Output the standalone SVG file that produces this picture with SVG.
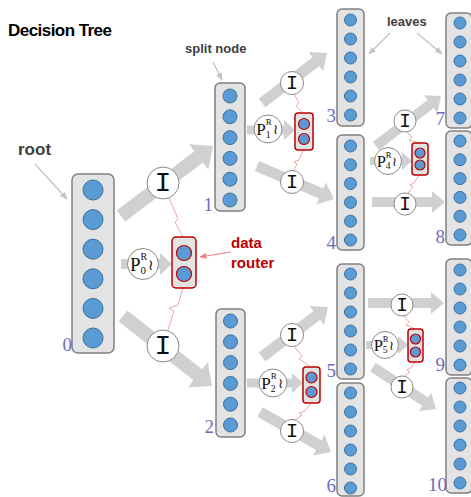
<svg xmlns="http://www.w3.org/2000/svg" width="471" height="497" viewBox="0 0 471 497">
<style>
.bg{fill:#ffffff}
.arr{fill:#d0d0d0}
.box{fill:#e3e3e3;stroke:#808080;stroke-width:1.5}
.dot{fill:#5b9bd5;stroke:#41719c;stroke-width:1}
.rbox{fill:#e3e3e3;stroke:#c00000;stroke-width:1.5}
.rdot{fill:#5b9bd5;stroke:#c00000;stroke-width:1.2}
.pink{fill:none;stroke:#f4a3a3;stroke-width:1}
.op{fill:#ffffff;stroke:#8a8a8a;stroke-width:1}
.itxt{font-family:"Liberation Mono","DejaVu Sans Mono",monospace;font-size:28px;fill:#111;text-anchor:middle}
.ptxt{font-family:"Liberation Serif","DejaVu Serif",serif;fill:#111}
.num{font-family:"Liberation Serif","DejaVu Serif",serif;font-size:19px;fill:#6b6bc4;text-anchor:end}
.lbl{font-family:"Liberation Sans","DejaVu Sans",sans-serif;font-weight:bold;fill:#404040}
.note{fill:none;stroke:#c4c4c4;stroke-width:1.3}
</style>
<defs>
<marker id="gh" viewBox="0 0 10 10" refX="9" refY="5" markerWidth="6" markerHeight="6" orient="auto">
<path d="M0,1 L10,5 L0,9 Z" fill="#c4c4c4"/>
</marker>
<marker id="rh" viewBox="0 0 10 10" refX="9" refY="5" markerWidth="6" markerHeight="6" orient="auto">
<path d="M0,1 L10,5 L0,9 Z" fill="#f08080"/>
</marker>
</defs>
<rect class="bg" x="0" y="0" width="471" height="497"/>

<text class="lbl" x="8" y="36" font-size="17" style="fill:#000" textLength="104">Decision Tree</text>
<text class="lbl" x="18" y="155" font-size="17">root</text>
<text class="lbl" x="185" y="53" font-size="13">split node</text>
<text class="lbl" x="387" y="26" font-size="13">leaves</text>
<text class="lbl" x="231" y="248" font-size="15" style="fill:#c00000">data</text>
<text class="lbl" x="231" y="268" font-size="15" style="fill:#c00000">router</text>
<line class="note" x1="35" y1="164" x2="67" y2="199" marker-end="url(#gh)"/>
<line class="note" x1="213" y1="62" x2="222" y2="80" marker-end="url(#gh)"/>
<line class="note" x1="390" y1="33" x2="369" y2="54" marker-end="url(#gh)"/>
<line class="note" x1="417" y1="33" x2="442" y2="54" marker-end="url(#gh)"/>
<line x1="231" y1="252" x2="200" y2="257" stroke="#f08080" stroke-width="1.2" marker-end="url(#rh)"/>

<g id="connectors">
<path class="arr" transform="translate(121,216) rotate(-37.27)" d="M0,-7 H97.6 V-16 L115.6,0 L97.6,16 V7 H0 Z"/>
<path class="arr" transform="translate(123,316) rotate(38.19)" d="M0,-7 H95.2 V-16 L113.2,0 L95.2,16 V7 H0 Z"/>
<path class="arr" transform="translate(262,103) rotate(-37.57)" d="M0,-5.5 H68 V-12 L82,0 L68,12 V5.5 H0 Z"/>
<path class="arr" transform="translate(257,166) rotate(23.2)" d="M0,-5.5 H69.8 V-12 L83.8,0 L69.8,12 V5.5 H0 Z"/>
<path class="arr" transform="translate(262,357) rotate(-37.15)" d="M0,-5.5 H68.8 V-12 L82.8,0 L68.8,12 V5.5 H0 Z"/>
<path class="arr" transform="translate(260,412) rotate(29.39)" d="M0,-5.5 H67.5 V-12 L81.5,0 L67.5,12 V5.5 H0 Z"/>
<path class="arr" transform="translate(376,146) rotate(-37.57)" d="M0,-5 H69 V-11 L82,0 L69,11 V5 H0 Z"/>
<path class="arr" transform="translate(372,202)" d="M0,-5 H60 V-11 L73,0 L60,11 V5 H0 Z"/>
<path class="arr" transform="translate(368,303)" d="M0,-5 H63 V-11 L76,0 L63,11 V5 H0 Z"/>
<path class="arr" transform="translate(373,367) rotate(33.69)" d="M0,-5 H62.7 V-11 L75.7,0 L62.7,11 V5 H0 Z"/>
<path class="arr" transform="translate(121,264)" d="M0,-5 H39 V-11 L51,0 L39,11 V5 H0 Z"/>
<path class="arr" transform="translate(247,130)" d="M0,-4.5 H37 V-10 L48,0 L37,10 V4.5 H0 Z"/>
<path class="arr" transform="translate(247,383)" d="M0,-4.5 H45 V-10 L56,0 L45,10 V4.5 H0 Z"/>
<path class="arr" transform="translate(370,161)" d="M0,-4 H32 V-9 L42,0 L32,9 V4 H0 Z"/>
<path class="arr" transform="translate(366,345)" d="M0,-4 H32 V-9 L42,0 L32,9 V4 H0 Z"/>
<path class="pink" d="M169,198 L178,219 L175,222 L183,237"/>
<path class="pink" d="M183,288 L178,305 L169,308 L174,311 L168,330"/>
<path class="pink" d="M294,94 L299,103 L296,106 L303,113"/>
<path class="pink" d="M303,150 L299,160 L294,162 L297,164 L294,170"/>
<path class="pink" d="M294,346 L302,356 L299,359 L311,367"/>
<path class="pink" d="M311,403 L305,411 L299,413 L302,415 L295,420"/>
<path class="pink" d="M407,132 L412,137 L409,140 L419,143"/>
<path class="pink" d="M419,175 L414,183 L410,185 L413,187 L408,193"/>
<path class="pink" d="M404,316 L409,322 L406,325 L415,329"/>
<path class="pink" d="M415,362 L411,368 L407,370 L410,372 L405,376"/>
</g>

<g id="node0">
<rect class="box" x="72" y="174" width="42" height="179" rx="6"/>
<circle class="dot" cx="93" cy="190" r="10"/><circle class="dot" cx="93" cy="219.6" r="10"/><circle class="dot" cx="93" cy="249.2" r="10"/><circle class="dot" cx="93" cy="278.8" r="10"/><circle class="dot" cx="93" cy="308.4" r="10"/><circle class="dot" cx="93" cy="338" r="10"/>
<text class="num" x="72" y="351">0</text>
</g>
<g id="node1">
<rect class="box" x="215" y="83" width="30" height="128" rx="5"/>
<circle class="dot" cx="230" cy="96" r="7"/><circle class="dot" cx="230" cy="116.8" r="7"/><circle class="dot" cx="230" cy="137.6" r="7"/><circle class="dot" cx="230" cy="158.4" r="7"/><circle class="dot" cx="230" cy="179.2" r="7"/><circle class="dot" cx="230" cy="200" r="7"/>
<text class="num" x="213" y="211">1</text>
</g>
<g id="node2">
<rect class="box" x="216" y="309" width="29" height="128" rx="5"/>
<circle class="dot" cx="230.5" cy="321" r="7"/><circle class="dot" cx="230.5" cy="341.8" r="7"/><circle class="dot" cx="230.5" cy="362.6" r="7"/><circle class="dot" cx="230.5" cy="383.4" r="7"/><circle class="dot" cx="230.5" cy="404.2" r="7"/><circle class="dot" cx="230.5" cy="425" r="7"/>
<text class="num" x="214" y="433">2</text>
</g>
<g id="node3">
<rect class="box" x="337" y="9" width="27" height="117" rx="5"/>
<circle class="dot" cx="350.5" cy="20" r="6"/><circle class="dot" cx="350.5" cy="39" r="6"/><circle class="dot" cx="350.5" cy="58" r="6"/><circle class="dot" cx="350.5" cy="77" r="6"/><circle class="dot" cx="350.5" cy="96" r="6"/><circle class="dot" cx="350.5" cy="115" r="6"/>
<text class="num" x="336" y="122">3</text>
</g>
<g id="node4">
<rect class="box" x="337" y="135" width="27" height="115" rx="5"/>
<circle class="dot" cx="350.5" cy="146" r="6"/><circle class="dot" cx="350.5" cy="164.8" r="6"/><circle class="dot" cx="350.5" cy="183.6" r="6"/><circle class="dot" cx="350.5" cy="202.4" r="6"/><circle class="dot" cx="350.5" cy="221.2" r="6"/><circle class="dot" cx="350.5" cy="240" r="6"/>
<text class="num" x="336" y="249">4</text>
</g>
<g id="node5">
<rect class="box" x="337" y="264" width="27" height="115" rx="5"/>
<circle class="dot" cx="350.5" cy="274" r="6"/><circle class="dot" cx="350.5" cy="293" r="6"/><circle class="dot" cx="350.5" cy="312" r="6"/><circle class="dot" cx="350.5" cy="331" r="6"/><circle class="dot" cx="350.5" cy="350" r="6"/><circle class="dot" cx="350.5" cy="369" r="6"/>
<text class="num" x="336" y="377">5</text>
</g>
<g id="node6">
<rect class="box" x="337" y="383" width="27" height="113" rx="5"/>
<circle class="dot" cx="350.5" cy="393" r="6"/><circle class="dot" cx="350.5" cy="412" r="6"/><circle class="dot" cx="350.5" cy="431" r="6"/><circle class="dot" cx="350.5" cy="450" r="6"/><circle class="dot" cx="350.5" cy="469" r="6"/><circle class="dot" cx="350.5" cy="488" r="6"/>
<text class="num" x="336" y="492">6</text>
</g>
<g id="node7">
<rect class="box" x="446" y="13" width="26" height="115" rx="5"/>
<circle class="dot" cx="460" cy="23" r="6"/><circle class="dot" cx="460" cy="42" r="6"/><circle class="dot" cx="460" cy="61" r="6"/><circle class="dot" cx="460" cy="80" r="6"/><circle class="dot" cx="460" cy="99" r="6"/><circle class="dot" cx="460" cy="118" r="6"/>
<text class="num" x="445" y="125">7</text>
</g>
<g id="node8">
<rect class="box" x="446" y="131" width="26" height="114" rx="5"/>
<circle class="dot" cx="460" cy="141" r="6"/><circle class="dot" cx="460" cy="159.8" r="6"/><circle class="dot" cx="460" cy="178.6" r="6"/><circle class="dot" cx="460" cy="197.4" r="6"/><circle class="dot" cx="460" cy="216.2" r="6"/><circle class="dot" cx="460" cy="235" r="6"/>
<text class="num" x="445" y="243">8</text>
</g>
<g id="node9">
<rect class="box" x="446" y="259" width="26" height="116" rx="5"/>
<circle class="dot" cx="460" cy="270" r="6"/><circle class="dot" cx="460" cy="289" r="6"/><circle class="dot" cx="460" cy="308" r="6"/><circle class="dot" cx="460" cy="327" r="6"/><circle class="dot" cx="460" cy="346" r="6"/><circle class="dot" cx="460" cy="365" r="6"/>
<text class="num" x="445" y="371">9</text>
</g>
<g id="node10">
<rect class="box" x="446" y="378" width="26" height="115" rx="5"/>
<circle class="dot" cx="460" cy="388" r="6"/><circle class="dot" cx="460" cy="407" r="6"/><circle class="dot" cx="460" cy="426" r="6"/><circle class="dot" cx="460" cy="445" r="6"/><circle class="dot" cx="460" cy="464" r="6"/><circle class="dot" cx="460" cy="483" r="6"/>
<text class="num" x="447" y="491">10</text>
</g>

<g id="router0">
<rect class="rbox" x="172" y="237" width="24" height="51" rx="4"/>
<circle class="rdot" cx="184" cy="253" r="7.5"/><circle class="rdot" cx="184" cy="274" r="7.5"/>
</g>
<g id="router1">
<rect class="rbox" x="295" y="113" width="18" height="37" rx="3"/>
<circle class="rdot" cx="304" cy="124" r="5.5"/><circle class="rdot" cx="304" cy="139" r="5.5"/>
</g>
<g id="router2">
<rect class="rbox" x="303" y="367" width="17" height="36" rx="3"/>
<circle class="rdot" cx="311.5" cy="377.5" r="5.5"/><circle class="rdot" cx="311.5" cy="392" r="5.5"/>
</g>
<g id="router4">
<rect class="rbox" x="412" y="143" width="16" height="32" rx="3"/>
<circle class="rdot" cx="420" cy="153" r="5"/><circle class="rdot" cx="420" cy="165" r="5"/>
</g>
<g id="router5">
<rect class="rbox" x="408" y="329" width="15" height="33" rx="3"/>
<circle class="rdot" cx="415.5" cy="339" r="5"/><circle class="rdot" cx="415.5" cy="352" r="5"/>
</g>

<g id="I-0a" transform="translate(163,183)"><circle class="op" r="16"/><text class="itxt" y="8">I</text></g>
<g id="I-0b" transform="translate(163,346)"><circle class="op" r="16"/><text class="itxt" y="8">I</text></g>
<g id="I-1a" transform="translate(292,83) scale(0.72)"><circle class="op" r="16" vector-effect="non-scaling-stroke"/><text class="itxt" y="8">I</text></g>
<g id="I-1b" transform="translate(292,182) scale(0.72)"><circle class="op" r="16" vector-effect="non-scaling-stroke"/><text class="itxt" y="8">I</text></g>
<g id="I-2a" transform="translate(292,335) scale(0.72)"><circle class="op" r="16" vector-effect="non-scaling-stroke"/><text class="itxt" y="8">I</text></g>
<g id="I-2b" transform="translate(292,431) scale(0.72)"><circle class="op" r="16" vector-effect="non-scaling-stroke"/><text class="itxt" y="8">I</text></g>
<g id="I-4a" transform="translate(405,121) scale(0.69)"><circle class="op" r="16" vector-effect="non-scaling-stroke"/><text class="itxt" y="8">I</text></g>
<g id="I-4b" transform="translate(405,204) scale(0.69)"><circle class="op" r="16" vector-effect="non-scaling-stroke"/><text class="itxt" y="8">I</text></g>
<g id="I-5a" transform="translate(402,305) scale(0.69)"><circle class="op" r="16" vector-effect="non-scaling-stroke"/><text class="itxt" y="8">I</text></g>
<g id="I-5b" transform="translate(402,387) scale(0.69)"><circle class="op" r="16" vector-effect="non-scaling-stroke"/><text class="itxt" y="8">I</text></g>

<g id="P0" transform="translate(143,264)"><circle class="op" r="15.5" vector-effect="non-scaling-stroke"/><text class="ptxt" x="-13" y="7" font-size="19">P</text><text class="ptxt" x="-2.5" y="-4" font-size="10">R</text><text class="ptxt" x="-2.5" y="9.5" font-size="11">0</text><text class="ptxt" x="5" y="6" font-size="15">≀</text></g>
<g id="P1" transform="translate(268,129) scale(0.9)"><circle class="op" r="15.5" vector-effect="non-scaling-stroke"/><text class="ptxt" x="-13" y="7" font-size="19">P</text><text class="ptxt" x="-2.5" y="-4" font-size="10">R</text><text class="ptxt" x="-2.5" y="9.5" font-size="11">1</text><text class="ptxt" x="5" y="6" font-size="15">≀</text></g>
<g id="P2" transform="translate(273,383) scale(0.9)"><circle class="op" r="15.5" vector-effect="non-scaling-stroke"/><text class="ptxt" x="-13" y="7" font-size="19">P</text><text class="ptxt" x="-2.5" y="-4" font-size="10">R</text><text class="ptxt" x="-2.5" y="9.5" font-size="11">2</text><text class="ptxt" x="5" y="6" font-size="15">≀</text></g>
<g id="P4" transform="translate(388,161) scale(0.87)"><circle class="op" r="15.5" vector-effect="non-scaling-stroke"/><text class="ptxt" x="-13" y="7" font-size="19">P</text><text class="ptxt" x="-2.5" y="-4" font-size="10">R</text><text class="ptxt" x="-2.5" y="9.5" font-size="11">4</text><text class="ptxt" x="5" y="6" font-size="15">≀</text></g>
<g id="P5" transform="translate(385,345) scale(0.87)"><circle class="op" r="15.5" vector-effect="non-scaling-stroke"/><text class="ptxt" x="-13" y="7" font-size="19">P</text><text class="ptxt" x="-2.5" y="-4" font-size="10">R</text><text class="ptxt" x="-2.5" y="9.5" font-size="11">5</text><text class="ptxt" x="5" y="6" font-size="15">≀</text></g>
</svg>
